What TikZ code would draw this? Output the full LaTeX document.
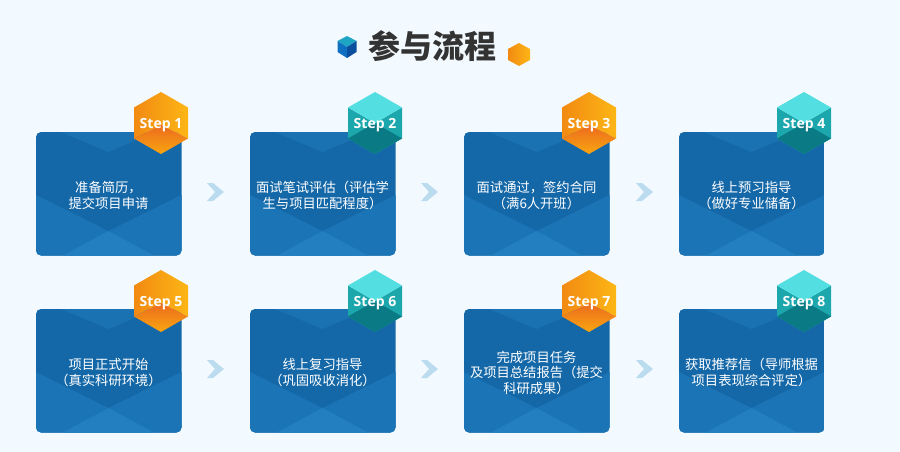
\documentclass[tikz,border=0pt]{standalone}
\usepackage{fontspec}
\setmainfont{Noto Sans CJK SC}
\newfontfamily\stepfont{Open Sans}
\usetikzlibrary{calc}
\definecolor{bgc}{HTML}{F3FAFF}
\definecolor{cardA}{HTML}{1568A8}
\definecolor{cardB}{HTML}{1A72B3}
\definecolor{cardC}{HTML}{1B74B6}
\definecolor{cardD}{HTML}{237FC0}
\definecolor{chev}{HTML}{BBDBEF}
\definecolor{oa}{HTML}{F28A12}
\definecolor{ob}{HTML}{FCB615}
\definecolor{oc}{HTML}{EC6A1E}
\definecolor{od}{HTML}{F9A610}
\definecolor{tt}{HTML}{53DFE1}
\definecolor{ts}{HTML}{1CA7AC}
\definecolor{tb}{HTML}{0A7A84}
\definecolor{qa}{HTML}{1FA5C4}
\definecolor{qb}{HTML}{0F6FC0}
\definecolor{qc}{HTML}{0A4F9E}
\tikzset{
  cardtext/.style={text=white,font=\fontsize{13.3}{15.5}\selectfont,align=center,inner sep=0pt,text width=136pt},
  steptext/.style={text=white,font=\stepfont\bfseries\fontsize{14}{16}\selectfont,inner sep=0pt},
  titletext/.style={text=black!80,font=\bfseries\fontsize{32}{34}\selectfont,inner sep=0pt}
}
% card: #1 name #2 x #3 y #4 text
\newcommand{\mycard}[4]{%
  \begin{scope}
    \clip[rounded corners=5pt] (#2,#3) rectangle ++(145.5,123.5);
    \fill[cardA] (#2,#3) rectangle ++(145.5,123.5);
    \fill[cardB] (#2+25,#3) -- (#2+72.5,#3+20) -- (#2+120,#3) -- cycle;
    \fill[cardC] (#2,#3+63) -- (#2+72.5,#3+99) -- (#2+145.5,#3+63) -- (#2+145.5,#3+123.5) -- (#2,#3+123.5) -- cycle;
    \fill[cardD] (#2+27,#3+123.5) -- (#2+72.5,#3+99) -- (#2+118,#3+123.5) -- cycle;
  \end{scope}
  \node[cardtext] (#1) at (#2+72.5,#3+63.5) {#4};
}
\newcommand{\myorange}[4]{%
  \shade[left color=oa,right color=ob] (#2,#3-31) -- (#2+27,#3-15.5) -- (#2+27,#3+15.5) -- (#2,#3+2) -- (#2-27,#3+15.5) -- (#2-27,#3-15.5) -- cycle;
  \shade[top color=oc,bottom color=od] (#2,#3+2) -- (#2+27,#3+15.5) -- (#2,#3+31) -- (#2-27,#3+15.5) -- cycle;
  \node[steptext] (#1) at (#2,#3+2) {#4};
}
\newcommand{\myteal}[4]{%
  \fill[ts] (#2-27,#3-15.5) -- (#2,#3) -- (#2+27,#3-15.5) -- (#2+27,#3+15.5) -- (#2,#3+31) -- (#2-27,#3+15.5) -- cycle;
  \fill[tt] (#2,#3-31) -- (#2+27,#3-15.5) -- (#2,#3) -- (#2-27,#3-15.5) -- cycle;
  \fill[tb] (#2,#3) -- (#2+27,#3+15.5) -- (#2,#3+31) -- (#2-27,#3+15.5) -- cycle;
  \node[steptext] (#1) at (#2,#3+2) {#4};
}
\newcommand{\mychev}[2]{%
  \fill[chev] (#1,#2) -- (#1+6,#2) -- (#1+17,#2+9) -- (#1+6,#2+18) -- (#1,#2+18) -- (#1+8,#2+9) -- cycle;
}
\begin{document}
\begin{tikzpicture}[x=1pt,y=-1pt]
\useasboundingbox (0,0) rectangle (900,452);
\fill[bgc] (0,0) rectangle (900,452);
\node[titletext] (title) at (432,46.5) {参与流程};
% title cubes
\fill[qa] (347,36) -- (356.5,41) -- (347,47) -- (337.5,41) -- cycle;
\fill[qb] (337.5,41) -- (347,47) -- (347,58) -- (337.5,52) -- cycle;
\fill[qc] (356.5,41) -- (347,47) -- (347,58) -- (356.5,52) -- cycle;
\shade[left color=oa,right color=ob] (519,43) -- (530,49) -- (530,60) -- (519,66) -- (508,60) -- (508,49) -- cycle;
% row 1
\mycard{c1}{36}{132}{准备简历，\\提交项目申请}
\mycard{c2}{250}{132}{面试笔试评估（评估学\\生与项目匹配程度）}
\mycard{c3}{464}{132}{面试通过，签约合同\\（满6人开班）}
\mycard{c4}{679}{132}{线上预习指导\\（做好专业储备）}
% row 2
\mycard{c5}{36}{309}{项目正式开始\\（真实科研环境）}
\mycard{c6}{250}{309}{线上复习指导\\（巩固吸收消化）}
\mycard{c7}{464}{309}{完成项目任务\\及项目总结报告（提交\\科研成果）}
\mycard{c8}{679}{309}{获取推荐信（导师根据\\项目表现综合评定）}
% badges
\myorange{s1}{161}{123}{Step 1}
\myteal{s2}{375}{123}{Step 2}
\myorange{s3}{589}{123}{Step 3}
\myteal{s4}{804}{123}{Step 4}
\myorange{s5}{161}{301}{Step 5}
\myteal{s6}{375}{301}{Step 6}
\myorange{s7}{589}{301}{Step 7}
\myteal{s8}{804}{301}{Step 8}
% chevrons
\mychev{207}{183}\mychev{421}{183}\mychev{636}{183}
\mychev{207}{360}\mychev{421}{360}\mychev{636}{360}
\end{tikzpicture}
\end{document}
